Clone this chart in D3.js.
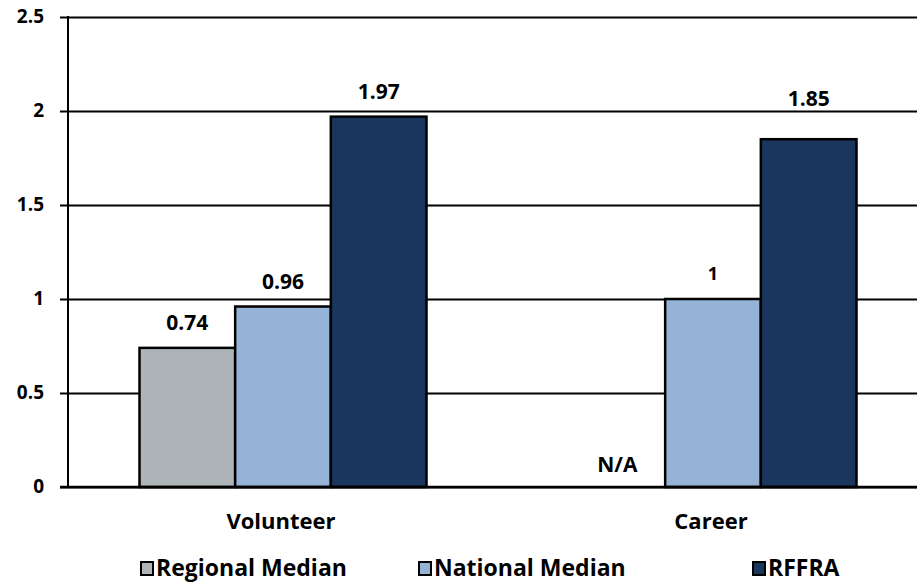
<!DOCTYPE html>
<html>
<head>
<meta charset="utf-8">
<script src="https://cdn.jsdelivr.net/npm/d3@7"></script>
<style>
  html, body { margin: 0; padding: 0; background: #fff; }
  svg { display: block; }
  text { font-family: "Open Sans", Lato, sans-serif; font-weight: 700; fill: #000; }
</style>
</head>
<body>
<svg id="chart" width="917" height="583"></svg>
<script>
// Categories and series
const categories = ["Volunteer", "Career"];
const seriesNames = ["Regional Median", "National Median", "RFFRA"];
const seriesColors = ["#adb5b9", "#95b3d7", "#1a365d"];

// Values per series (null = not available)
const regionalMedian = [0.74, null];
const nationalMedian = [0.96, 1];
const rffra = [1.97, 1.85];

const yTicks = [0, 0.5, 1, 1.5, 2, 2.5];
const naText = "N/A";

const seriesValues = [regionalMedian, nationalMedian, rffra];

const svg = d3.select("#chart");
const W = 917, H = 583;
const plot = { left: 68, right: 928, top: 17, bottom: 487 };

const y = d3.scaleLinear().domain([0, 2.5]).range([plot.bottom, plot.top]);
const x0 = d3.scaleBand().domain(categories).range([plot.left, plot.right]).padding(0);
const groupPad = 71.5;
const x1 = d3.scaleBand().domain(seriesNames)
  .range([groupPad, x0.bandwidth() - groupPad]).padding(0);

// Horizontal gridlines with tick marks extending left of the axis
const yAxis = d3.axisLeft(y).tickValues(yTicks)
  .tickSize(-(W - plot.left)).tickPadding(24)
  .tickFormat(d => d3.format("")(d));
const gy = svg.append("g").attr("transform", `translate(${plot.left},0)`).call(yAxis);
gy.select(".domain").remove();
gy.selectAll(".tick line").attr("x1", -8).attr("stroke", "#000").attr("stroke-width", 2);
gy.selectAll(".tick text").attr("font-size", 19).attr("font-family", "'Open Sans', sans-serif")
  .attr("font-weight", 700).attr("fill", "#000").attr("dy", "0.3em");

// Bars
const rows = [];
categories.forEach((c, i) => {
  seriesNames.forEach((s, j) => {
    rows.push({ cat: c, series: s, idx: j, value: seriesValues[j][i] });
  });
});

const barG = svg.append("g");
barG.selectAll("rect").data(rows.filter(d => d.value != null)).join("rect")
  .attr("x", d => x0(d.cat) + x1(d.series))
  .attr("y", d => y(d.value))
  .attr("width", x1.bandwidth())
  .attr("height", d => y(0) - y(d.value))
  .attr("fill", d => seriesColors[d.idx])
  .attr("stroke", "#000").attr("stroke-width", 2.5);

// Y axis line
svg.append("line").attr("x1", plot.left).attr("x2", plot.left)
  .attr("y1", y(2.5) - 1).attr("y2", y(0) + 1)
  .attr("stroke", "#000").attr("stroke-width", 2);

// Baseline drawn over the bars
svg.append("line").attr("x1", plot.left - 8).attr("x2", W)
  .attr("y1", y(0)).attr("y2", y(0)).attr("stroke", "#000").attr("stroke-width", 2.5);

// Value labels (the Career RFFRA label sits a bit higher)
const labelLift = d => (d.cat === "Career" && d.series === "RFFRA") ? 41 : 25;
const plainSans = d => d.value == null || d.value === 1;
svg.append("g").selectAll("text").data(rows).join("text")
  .attr("x", d => x0(d.cat) + x1(d.series) + x1.bandwidth() / 2)
  .attr("y", d => d.value != null ? y(d.value) - labelLift(d) : y(0) - 22)
  .attr("text-anchor", "middle").attr("dy", "0.35em")
  .attr("font-size", d => d.value == null ? 21 : (d.value === 1 ? 18 : 21))
  .attr("font-family", d => plainSans(d) ? "'Liberation Sans', Arial, sans-serif" : "'Open Sans', sans-serif")
  .text(d => d.value == null ? naText : d3.format("")(d.value));

// Category labels
svg.append("g").selectAll("text").data(categories).join("text")
  .attr("x", d => x0(d) + x0.bandwidth() / 2 - 2)
  .attr("y", 521).attr("dy", "0.35em").attr("text-anchor", "middle")
  .attr("font-size", 22).text(d => d);

// Legend
const legendX = [140, 418, 752];
const lg = svg.append("g").selectAll("g").data(seriesNames).join("g")
  .attr("transform", (d, i) => `translate(${legendX[i]},568)`);
lg.append("rect").attr("x", 1).attr("y", -6).attr("width", 12).attr("height", 13)
  .attr("fill", (d, i) => seriesColors[i]).attr("stroke", "#000").attr("stroke-width", 2);
lg.append("text").attr("x", 16).attr("dy", "0.36em").attr("font-size", 23).text(d => d);
</script>
</body>
</html>
